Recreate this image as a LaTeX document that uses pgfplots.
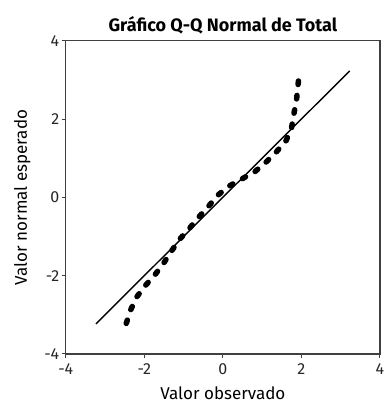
\documentclass[border=0pt]{standalone}
\usepackage{pgfplots}
\pgfplotsset{compat=1.18}
\usepackage{fontspec}
\setmainfont{Fira Sans}
\newcommand{\tl}[1]{\fontsize{16}{17}\selectfont #1}
\begin{document}
\begin{tikzpicture}
\useasboundingbox (-65.7pt,-49pt) rectangle (319.3pt,353.7pt);
\begin{axis}[
  at={(0pt,0pt)}, anchor=south west,
  scale only axis, width=314pt, height=313pt,
  xmin=-4, xmax=4, ymin=-4, ymax=4,
  xtick={-4,-2,0,2,4}, ytick={-4,-2,0,2,4},
  xticklabels={\tl{-4},\tl{-2},\tl{0},\tl{2},\tl{4}},
  yticklabels={\tl{-4},\tl{-2},\tl{0},\tl{2},\tl{4}},
  tick align=outside, major tick length=4pt,
  xtick pos=bottom, ytick pos=left,
  axis line style={line width=1.3pt, black!75},
  tick style={line width=1pt, black!75},
  ticklabel style={text=black!85},
  xticklabel style={yshift=-2pt},
  yticklabel style={xshift=1pt},
  title={\fontsize{18}{20}\selectfont\bfseries Gráfico Q-Q Normal de Total},
  title style={yshift=-3pt},
  xlabel={\fontsize{17}{19}\selectfont Valor observado},
  ylabel={\fontsize{17}{19}\selectfont Valor normal esperado},
  xlabel style={yshift=-5pt},
  ylabel style={yshift=7pt},
  clip=false,
]
\addplot[black, line width=1.4pt] coordinates {(-3.23,-3.23) (3.23,3.23)};
\addplot[black, line width=5.5pt, line cap=round, dash pattern=on 3.5pt off 11pt] coordinates {
(-2.46,-3.22) (-2.35,-2.88) (-2.19,-2.54) (-1.98,-2.26) (-1.73,-1.98) (-1.50,-1.67)
(-1.30,-1.36) (-1.09,-1.06) (-0.85,-0.79) (-0.60,-0.49) (-0.35,-0.21) (-0.10,0.08)
(0.18,0.30) (0.52,0.49) (0.82,0.66) (1.09,0.89) (1.37,1.17) (1.61,1.45)
(1.75,1.78) (1.81,2.14) (1.88,2.53) (1.92,2.93) (1.95,3.25)
};
\end{axis}
\end{tikzpicture}
\end{document}
